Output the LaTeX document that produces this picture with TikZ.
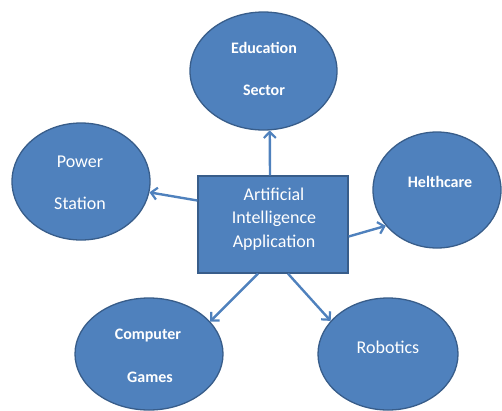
\documentclass[tikz,border=0pt]{standalone}
\usepackage{fontspec}
\setmainfont{Carlito}
\usetikzlibrary{shapes.geometric,arrows.meta,calc}
\definecolor{fillblue}{HTML}{4F81BD}
\definecolor{edgeblue}{HTML}{385D8A}
\tikzset{
  oval/.style={ellipse,draw=edgeblue,fill=fillblue,line width=1.3pt,inner sep=0pt},
  mainbox/.style={rectangle,draw=edgeblue,fill=fillblue,line width=1.3pt,inner sep=0pt,
    minimum width=150pt,minimum height=97pt},
  lbl/.style={text=white,inner sep=0pt,font=\fontsize{18}{21}\selectfont},
  blbl/.style={text=white,inner sep=0pt,font=\fontsize{16}{19}\selectfont\bfseries},
  link/.style={draw=fillblue,line width=2.4pt,-{Straight Barb[length=6pt,width=12pt,line width=2.2pt]}}
}
\begin{document}
\begin{tikzpicture}[x=1pt,y=-1pt]
\useasboundingbox (0,0) rectangle (502,410);
\node[oval,minimum width=147pt,minimum height=118pt] (edu) at (263.5,71) {};
\node[oval,minimum width=138pt,minimum height=117pt] (pow) at (81,181.5) {};
\node[oval,minimum width=128pt,minimum height=116pt] (hc) at (437,190) {};
\node[oval,minimum width=148pt,minimum height=112pt] (cg) at (149,354) {};
\node[oval,minimum width=140pt,minimum height=112pt] (rob) at (388,354) {};
\node[mainbox] (box) at (273,224.5) {};
\node[blbl] (t1) at (264,48) {Education};
\node[blbl] (t2) at (264,90) {Sector};
\node[lbl] (t3) at (80,162) {Power};
\node[lbl] (t4) at (80,203) {Station};
\node[blbl] (t5) at (440,182) {Helthcare};
\node[blbl] (t6) at (148,336) {Computer};
\node[blbl] (t7) at (150,377) {Games};
\node[lbl] (t8) at (388,347) {Robotics};
\node[lbl,align=center,font=\fontsize{18}{23.5}\selectfont] (t9) at (274,219) {Artificial\\Intelligence\\Application};
\draw[link] ($(box.north)+(-3,0)$) -- (edu.-84);
\draw[link] ($(box.west)+(0,-24)$) -- (pow.-9.5);
\draw[link] ($(box.east)+(0,12)$) -- (hc.215);
\draw[link] ($(box.south)+(-15,0)$) -- (cg.28);
\draw[link] ($(box.south)+(15,0)$) -- (rob.150);
\end{tikzpicture}
\end{document}
